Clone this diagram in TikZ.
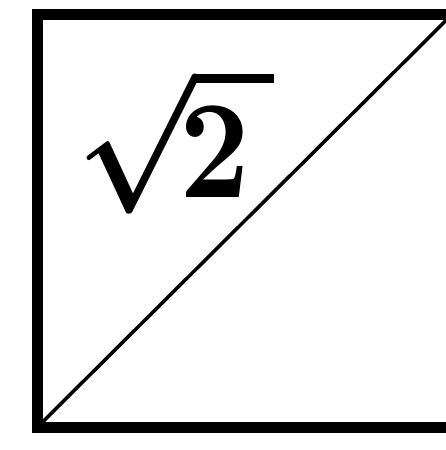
\documentclass[tikz,border=0pt]{standalone}
\usepackage{amsmath}
\usepackage{tikz}
\usetikzlibrary{calc}

\begin{document}
\begin{tikzpicture}[x=1pt, y=-1pt,
    frame/.style={line width=11pt, line cap=rect},
    diag/.style={line width=3.5pt}]
  \useasboundingbox (0,0) rectangle (446,450);
  \begin{scope}
    \clip (0,0) rectangle (446,450);
    \coordinate (sw) at (37.5,427);
    \coordinate (ne) at (452,14.5);
    \draw[frame] (sw) rectangle (ne);
    \draw[diag] (sw) -- (ne);
  \end{scope}
  \node[xscale=12.3, yscale=14, inner sep=0pt] (radic) at (176,140) {{\boldmath$\sqrt{\mkern-2mu 2\,}$}};
\end{tikzpicture}
\end{document}
